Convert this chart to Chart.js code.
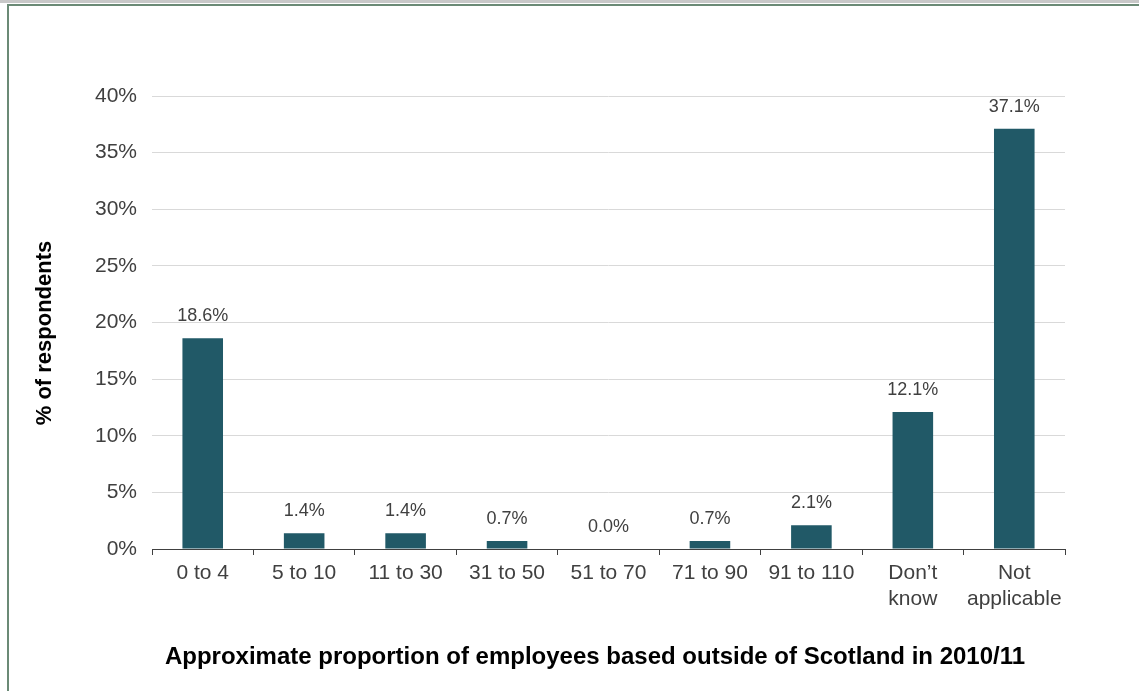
<!DOCTYPE html>
<html>
<head>
<meta charset="utf-8">
<script src="https://cdn.jsdelivr.net/npm/chart.js@4/dist/chart.umd.min.js"></script>
<style>
  body { margin: 0; background: #fff; }
  #wrap { position: relative; width: 1139px; height: 691px; overflow: hidden; }
  #topbar { position: absolute; left: 0; top: 0; width: 1139px; height: 3px; background: #c8c8c8; }
  #frame { position: absolute; left: 7px; top: 4px; right: -5px; bottom: -5px;
           border-top: 2px solid #6b8a76; border-left: 2px solid #6b8a76; }
  canvas { position: absolute; left: 0; top: 0; }
</style>
</head>
<body>
<div id="wrap">
  <div id="topbar"></div>
  <div id="frame"></div>
  <canvas id="myBarChart" width="1139" height="691"></canvas>
</div>
<script>
var categorias = ['0 to 4', '5 to 10', '11 to 30', '31 to 50', '51 to 70', '71 to 90', '91 to 110', ['Don\u2019t', 'know'], ['Not', 'applicable']];
var porcentajes = [18.6, 1.4, 1.4, 0.7, 0.0, 0.7, 2.1, 12.1, 37.1];
var ticksY = [0, 5, 10, 15, 20, 25, 30, 35, 40];
var tituloX = 'Approximate proportion of employees based outside of Scotland in 2010/11';
var tituloY = '% of respondents';

var textColor = '#404040';
var fuente = '"Liberation Sans", Arial, sans-serif';

// etiquetas encima de cada barra y titulos de los ejes
var etiquetas = {
    id: 'etiquetas',
    afterDatasetsDraw: function(chart) {
        var ctx = chart.ctx;
        var meta = chart.getDatasetMeta(0);
        ctx.save();
        ctx.font = '18px ' + fuente;
        ctx.fillStyle = textColor;
        ctx.textAlign = 'center';
        ctx.textBaseline = 'middle';
        meta.data.forEach(function(bar, i) {
            ctx.fillText(porcentajes[i].toFixed(1) + '%', bar.x, bar.y - 22);
        });

        ctx.fillStyle = '#000';
        ctx.font = 'bold 24px ' + fuente;
        ctx.fillText(tituloX, 595, 657);

        ctx.translate(45, 333);
        ctx.rotate(-Math.PI / 2);
        ctx.font = 'bold 22px ' + fuente;
        ctx.fillText(tituloY, 0, 0);
        ctx.restore();
    }
};

var ctx = document.getElementById('myBarChart').getContext('2d');
var myChart = new Chart(ctx, {
    type: 'bar',
    data: {
        labels: categorias,
        datasets: [{
            data: porcentajes,
            backgroundColor: '#215967',
            borderWidth: 0,
            categoryPercentage: 1,
            barPercentage: 0.4
        }]
    },
    options: {
        responsive: false,
        animation: false,
        layout: { padding: { left: 28, right: 74, top: 96, bottom: 20 } },
        plugins: {
            legend: { display: false },
            tooltip: { enabled: false }
        },
        scales: {
            x: {
                offset: true,
                afterFit: function(scale) { scale.height = 122; },
                grid: {
                    offset: true,
                    drawOnChartArea: false,
                    color: textColor,
                    tickLength: 6
                },
                border: { display: true, color: textColor, width: 1 },
                ticks: {
                    color: textColor,
                    padding: 5,
                    maxRotation: 0,
                    autoSkip: false,
                    font: { family: fuente, size: 21, lineHeight: 1.25 }
                }
            },
            y: {
                min: 0,
                max: 40,
                afterBuildTicks: function(scale) {
                    scale.ticks = ticksY.map(function(v) { return { value: v }; });
                },
                afterFit: function(scale) { scale.width = 124; },
                grid: { color: '#d9d9d9', drawTicks: false },
                border: { display: false },
                ticks: {
                    color: textColor,
                    padding: 15,
                    callback: function(v) { return v + '%'; },
                    font: { family: fuente, size: 21 }
                }
            }
        }
    },
    plugins: [etiquetas]
});
</script>
</body>
</html>
